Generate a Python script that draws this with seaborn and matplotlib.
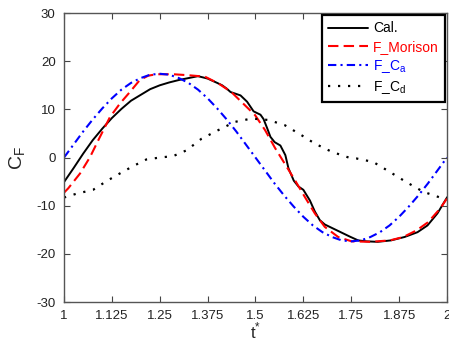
import numpy as np
import pandas as pd
import matplotlib
matplotlib.use("Agg")
import matplotlib.pyplot as plt
import seaborn as sns

# Calculated force coefficient
t_cal = [1.000, 1.025, 1.050, 1.075, 1.100, 1.125, 1.150, 1.175, 1.200, 1.225,
         1.250, 1.275, 1.300, 1.325, 1.350, 1.375, 1.400, 1.413, 1.425, 1.435,
         1.450, 1.461, 1.478, 1.495, 1.505, 1.513, 1.521, 1.530, 1.539, 1.550,
         1.565, 1.578, 1.586, 1.600, 1.612, 1.625, 1.642, 1.655, 1.668, 1.681,
         1.694, 1.707, 1.720, 1.733, 1.746, 1.768, 1.790, 1.819, 1.854, 1.889,
         1.923, 1.949, 1.975, 2.000]
cf_cal = [-5.1, -2.2, 0.8, 3.6, 6.0, 8.2, 10.1, 11.8, 13.0, 14.2,
          15.0, 15.6, 16.1, 16.5, 16.9, 16.4, 15.5, 15.0, 14.3, 13.6,
          13.2, 12.9, 11.6, 9.6, 9.2, 8.9, 8.0, 6.2, 4.3, 3.2,
          2.5, 0.5, -2.2, -4.8, -6.0, -6.7, -8.9, -11.2, -13.0, -13.9,
          -14.4, -14.9, -15.4, -15.9, -16.4, -17.2, -17.4, -17.5, -17.2, -16.5,
          -15.5, -14.1, -11.6, -8.3]

# Morison equation
t_mor = [1.000, 1.011, 1.025, 1.042, 1.068, 1.094, 1.120, 1.146, 1.172, 1.198,
         1.220, 1.242, 1.285, 1.324, 1.368, 1.403, 1.437, 1.468, 1.499, 1.525,
         1.551, 1.579, 1.603, 1.629, 1.655, 1.681, 1.716, 1.751, 1.800, 1.851,
         1.886, 1.921, 1.951, 1.982, 2.000]
cf_mor = [-7.3, -6.4, -5.0, -3.3, 0.1, 4.3, 8.4, 11.2, 13.6, 16.1,
          17.0, 17.3, 17.3, 17.1, 16.8, 15.4, 13.6, 11.2, 8.8, 5.7,
          2.0, -1.6, -4.7, -8.2, -11.6, -14.4, -16.5, -17.4, -17.5, -17.2,
          -16.5, -15.1, -13.4, -10.6, -8.5]

# Inertia term
t_ca = [1.000, 1.025, 1.050, 1.075, 1.100, 1.125, 1.150, 1.175, 1.200, 1.225,
        1.250, 1.275, 1.300, 1.325, 1.350, 1.375, 1.400, 1.425, 1.450, 1.475,
        1.500, 1.525, 1.550, 1.575, 1.600, 1.625, 1.650, 1.675, 1.700, 1.725,
        1.750, 1.775, 1.800, 1.825, 1.850, 1.875, 1.900, 1.925, 1.950, 1.975,
        2.000]
cf_ca = [0.0, 2.7, 5.4, 7.9, 10.2, 12.3, 14.1, 15.5, 16.5, 17.2,
         17.4, 17.2, 16.5, 15.5, 14.1, 12.3, 10.2, 7.9, 5.4, 2.7,
         0.0, -2.7, -5.4, -7.9, -10.2, -12.3, -14.1, -15.5, -16.5, -17.2,
         -17.4, -17.2, -16.5, -15.5, -14.1, -12.3, -10.2, -7.9, -5.4, -2.7,
         0.0]

# Drag term
t_cd = [1.000, 1.033, 1.076, 1.111, 1.146, 1.180, 1.215, 1.250, 1.285, 1.320,
        1.359, 1.403, 1.446, 1.490, 1.534, 1.577, 1.621, 1.655, 1.699, 1.751,
        1.764, 1.807, 1.851, 1.894, 1.938, 1.982, 2.000]
cf_cd = [-8.3, -7.5, -6.7, -4.9, -3.3, -1.8, -0.4, 0.0, 0.3, 1.5,
         3.9, 5.7, 7.4, 8.1, 7.8, 6.7, 4.6, 2.9, 1.2, -0.2,
         -0.2, -0.9, -3.0, -5.1, -7.1, -8.3, -8.3]

x_ticks = [1, 1.125, 1.25, 1.375, 1.5, 1.625, 1.75, 1.875, 2]
x_ticklabels = ["1", "1.125", "1.25", "1.375", "1.5", "1.625", "1.75", "1.875", "2"]
y_ticks = [-30, -20, -10, 0, 10, 20, 30]

sns.set_style("white")
plt.rcParams["font.family"] = ["Liberation Sans", "DejaVu Sans"]
plt.rcParams["mathtext.fontset"] = "custom"
plt.rcParams["mathtext.rm"] = "Liberation Sans"
plt.rcParams["axes.unicode_minus"] = False

fig = plt.figure(figsize=(4.49, 3.44), dpi=100)
ax = fig.add_axes([0.1425, 0.122, 0.853, 0.84])

series = [
    (t_cal, cf_cal, "Cal.", "black", "-", 1.4),
    (t_mor, cf_mor, "F_Morison", "#FF0000", (0, (5, 2.5)), 1.5),
    (t_ca, cf_ca, "F_C$_\\mathregular{a}$", "#0000FF", (0, (4, 2, 1, 2)), 1.5),
    (t_cd, cf_cd, "F_C$_\\mathregular{d}$", "black", (0, (1, 3.5)), 1.6),
]
for t, v, lab, col, ls, lw in series:
    df = pd.DataFrame({"t": t, "cf": v})
    sns.lineplot(data=df, x="t", y="cf", ax=ax, color=col, linestyle=ls,
                 linewidth=lw, label=lab, sort=False)

ax.set_xlim(1, 2)
ax.set_ylim(-30, 30)
ax.set_xticks(x_ticks)
ax.set_xticklabels(x_ticklabels)
ax.set_yticks(y_ticks)
ax.tick_params(direction="in", length=4, width=0.8, colors="#444444",
               labelcolor="#222222", labelsize=9.5, bottom=True, left=True,
               top=True, right=True, pad=6)
for s in ax.spines.values():
    s.set_color("#555555")
    s.set_linewidth(1.0)

ax.set_xlabel("t$^{\\mathregular{*}}$", fontsize=12, labelpad=-1)
ax.set_ylabel("C$_\\mathregular{F}$", fontsize=14, labelpad=6)

leg = ax.legend(loc="upper right", fontsize=10, frameon=True, fancybox=False,
                borderaxespad=0.15, handlelength=2.9, handletextpad=0.35,
                labelspacing=0.3, borderpad=0.45, labelcolor="linecolor")
leg.get_frame().set_edgecolor("black")
leg.get_frame().set_linewidth(1.6)
leg.get_frame().set_alpha(1)

fig.savefig("out.png", dpi=100)
